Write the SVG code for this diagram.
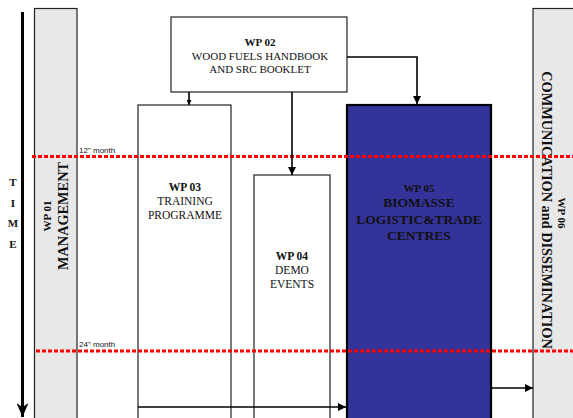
<svg xmlns="http://www.w3.org/2000/svg" width="573" height="418" viewBox="0 0 573 418">
<style>
.t{font-family:"Liberation Serif","Times New Roman",serif;fill:#111;text-anchor:middle}
.b{font-weight:bold}
.s{font-size:11.5px}
.m{font-family:"Liberation Sans",Arial,sans-serif;font-size:8px;fill:#111}
.col{fill:#e8e8e8;stroke:#222;stroke-width:1.2}
.box{fill:#fff;stroke:#222;stroke-width:1.2}
.red{stroke:#ff0000;stroke-width:3;stroke-dasharray:4 2;fill:none}
.con{stroke:#000;stroke-width:1.6;fill:none}
</style>
<defs>
<marker id="ah" viewBox="0 0 10 10" refX="10" refY="5" markerWidth="5" markerHeight="5" orient="auto" markerUnits="userSpaceOnUse">
<path d="M0,0 L10,5 L0,10 z" fill="#000"/>
</marker>
<marker id="ahs" viewBox="0 0 10 10" refX="10" refY="5" markerWidth="8" markerHeight="8" orient="auto" markerUnits="userSpaceOnUse">
<path d="M0,0 L10,5 L0,10 z" fill="#000"/>
</marker>
<marker id="big" viewBox="0 0 10 10" refX="10" refY="5" markerWidth="14" markerHeight="12" orient="auto" markerUnits="userSpaceOnUse" preserveAspectRatio="none">
<path d="M0,0 L10,5 L0,10 L3,5 z" fill="#000"/>
</marker>
</defs>

<g id="time">
<line x1="22.5" y1="12" x2="22.5" y2="417" stroke="#000" stroke-width="3" marker-end="url(#big)"/>
<text class="t b" x="13" y="186" font-size="11">T</text>
<text class="t b" x="13" y="207" font-size="11">I</text>
<text class="t b" x="13" y="227" font-size="11">M</text>
<text class="t b" x="13" y="248" font-size="11">E</text>
</g>

<g id="wp01">
<rect class="col" x="34.5" y="8.5" width="42.5" height="415"/>
<text class="t b" transform="translate(51,216) rotate(-90)" font-size="11">WP 01</text>
<text class="t b" transform="translate(68,216) rotate(-90)" font-size="14.3">MANAGEMENT</text>
</g>

<g id="wp06">
<rect class="col" x="533" y="8.5" width="45" height="415"/>
<text class="t b" transform="translate(558,213) rotate(90)" font-size="11">WP 06</text>
<text class="t b" transform="translate(542,210) rotate(90)" font-size="14.3">COMMUNICATION and DISSEMINATION</text>
</g>

<g id="wp02">
<rect class="box" x="171" y="17" width="176" height="75"/>
<text class="t b" x="260" y="46" font-size="11">WP 02</text>
<text class="t" x="260" y="59.5" font-size="11">WOOD FUELS HANDBOOK</text>
<text class="t" x="260" y="73" font-size="11">AND SRC BOOKLET</text>
</g>

<g id="wp03">
<rect class="box" x="138" y="105" width="93" height="320"/>
<text class="t b s" x="185" y="191">WP 03</text>
<text class="t s" x="185" y="205">TRAINING</text>
<text class="t s" x="185" y="218.5">PROGRAMME</text>
</g>

<g id="wp04">
<rect class="box" x="254" y="175" width="76" height="250" stroke="#555"/>
<text class="t b s" x="292" y="260">WP 04</text>
<text class="t s" x="292" y="274">DEMO</text>
<text class="t s" x="292" y="288">EVENTS</text>
</g>

<g id="wp05">
<rect x="347" y="105" width="144" height="320" fill="#333399" stroke="#000" stroke-width="2.2"/>
<text class="t b" x="419" y="192" font-size="11">WP 05</text>
<text class="t b" x="419" y="207" font-size="13.5">BIOMASSE</text>
<text class="t b" x="419" y="223.5" font-size="13.5">LOGISTIC&amp;TRADE</text>
<text class="t b" x="419" y="240" font-size="13.5">CENTRES</text>
</g>

<g id="months">
<line class="red" x1="32" y1="156.5" x2="573" y2="156.5"/>
<line class="red" x1="36" y1="351" x2="573" y2="351"/>
<text class="m" x="79" y="153">12" month</text>
<text class="m" x="79" y="347">24" month</text>
</g>

<g id="connectors">
<line class="con" x1="189" y1="92" x2="189" y2="105" marker-end="url(#ah)"/>
<line class="con" x1="292" y1="92" x2="292" y2="175" marker-end="url(#ahs)"/>
<polyline class="con" points="347,57 417,57 417,104" marker-end="url(#ahs)"/>
<line class="con" x1="138" y1="407" x2="346" y2="407" marker-end="url(#ahs)"/>
<line class="con" x1="492" y1="388" x2="533" y2="388" marker-end="url(#ahs)"/>
</g>
</svg>
